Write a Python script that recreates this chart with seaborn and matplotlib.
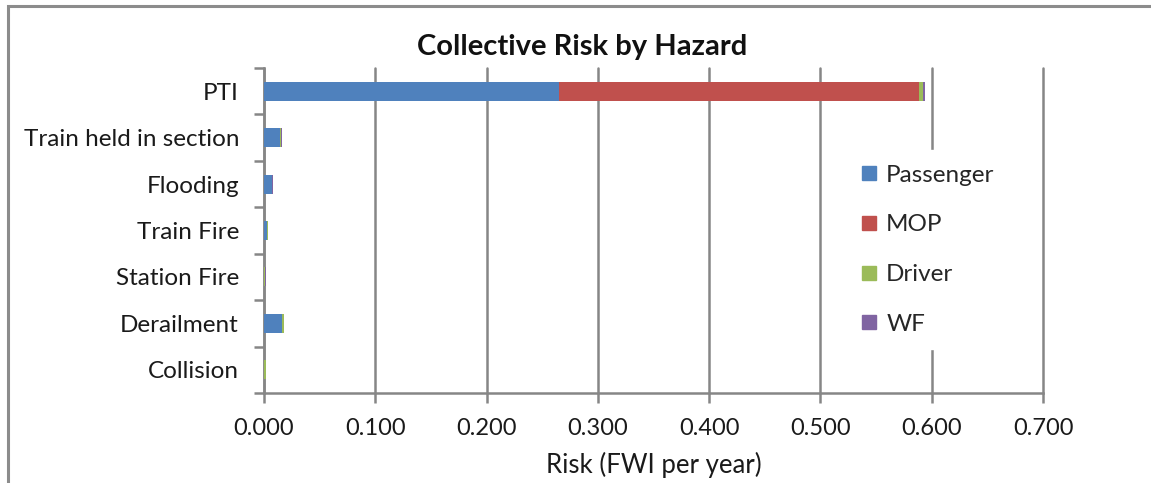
import matplotlib
matplotlib.use("Agg")
import matplotlib.pyplot as plt
from matplotlib.lines import Line2D
from matplotlib.patches import Rectangle
from matplotlib.ticker import FixedLocator, FormatStrFormatter
import numpy as np
import pandas as pd
import seaborn as sns

hazards = ["PTI", "Train held in section", "Flooding", "Train Fire",
           "Station Fire", "Derailment", "Collision"]
passenger = [0.265, 0.0144, 0.0069, 0.0024, 0.0003, 0.0165, 0.0003]
mop = [0.3236, 0.0, 0.0, 0.0, 0.0, 0.0, 0.0]
driver = [0.0040, 0.0012, 0.0003, 0.0010, 0.0002, 0.0012, 0.0015]
wf = [0.0012, 0.0002, 0.0008, 0.0002, 0.0015, 0.0002, 0.0002]

series_names = ["Passenger", "MOP", "Driver", "WF"]
series_colors = ["#4F81BD", "#C0504D", "#9BBB59", "#8064A2"]

sns.set_theme(style="white")
plt.rcParams["font.family"] = ["Lato", "DejaVu Sans"]

df = pd.DataFrame({"Hazard": hazards, "Passenger": passenger, "MOP": mop,
                   "Driver": driver, "WF": wf})
cum = df[series_names].cumsum(axis=1)
cum["Hazard"] = df["Hazard"]

fig = plt.figure(figsize=(11.51, 4.83), dpi=100)
ax = fig.add_axes([264 / 1151, 1 - 393 / 483, 779 / 1151, 325 / 483])

# stacked bars: draw cumulative totals from the outermost segment inward
for name, color in reversed(list(zip(series_names, series_colors))):
    sns.barplot(data=cum, x=name, y="Hazard", order=hazards, orient="h",
                color=color, width=0.41, saturation=1, linewidth=0,
                edgecolor=color, ax=ax, zorder=3)

text_color = "#1a1a1a"
grid_color = "#868686"
ax.set_xlim(0, 0.7)
ax.set_ylim(6.5, -0.5)
ax.xaxis.set_major_locator(FixedLocator(np.arange(0, 0.71, 0.1)))
ax.xaxis.set_major_formatter(FormatStrFormatter("%.3f"))
ax.grid(axis="x", color=grid_color, linewidth=1.8, zorder=0)
for gl in ax.get_xgridlines():
    gl.set_clip_on(False)
ax.set_axisbelow(True)

ax.yaxis.set_minor_locator(FixedLocator(np.arange(-0.5, 7, 1)))
ax.tick_params(axis="y", which="major", length=0, pad=18, labelsize=17.5,
               labelcolor=text_color)
ax.tick_params(axis="y", which="minor", length=7, width=1.8, color=grid_color,
               left=True)
ax.tick_params(axis="x", which="major", length=7, width=1.8, color=grid_color,
               bottom=True, labelsize=17, labelcolor=text_color, pad=11)

for side in ["top", "right"]:
    ax.spines[side].set_visible(False)
for side in ["left", "bottom"]:
    ax.spines[side].set_color(grid_color)
    ax.spines[side].set_linewidth(1.8)

ax.set_ylabel("")
ax.set_xlabel("Risk (FWI per year)", fontsize=18.5, color=text_color,
              labelpad=9)
fig.text(582 / 1151, 1 - 47 / 483, "Collective Risk by Hazard", fontsize=21,
         fontweight="bold", color="#111111", ha="center", va="center")

handles = [Line2D([], [], marker="s", linestyle="none", markersize=10,
                  markerfacecolor=c, markeredgecolor=c) for c in series_colors]
leg = ax.legend(handles, series_names, loc="upper left",
                bbox_to_anchor=(0.73, 0.785), frameon=True, fontsize=17.5,
                labelspacing=1.18, handletextpad=0.3, borderpad=0.6,
                handlelength=0.8)
leg.get_frame().set_facecolor("white")
leg.get_frame().set_edgecolor("white")
leg.get_frame().set_alpha(1)
leg.set_zorder(5)

fig.patches.append(Rectangle((8 / 1151, -0.2), 2.0, 1.2 - 6 / 483,
                             transform=fig.transFigure, fill=False,
                             edgecolor="#8c8c8c", linewidth=2.2))

fig.savefig("out.png", dpi=100, facecolor="white")
